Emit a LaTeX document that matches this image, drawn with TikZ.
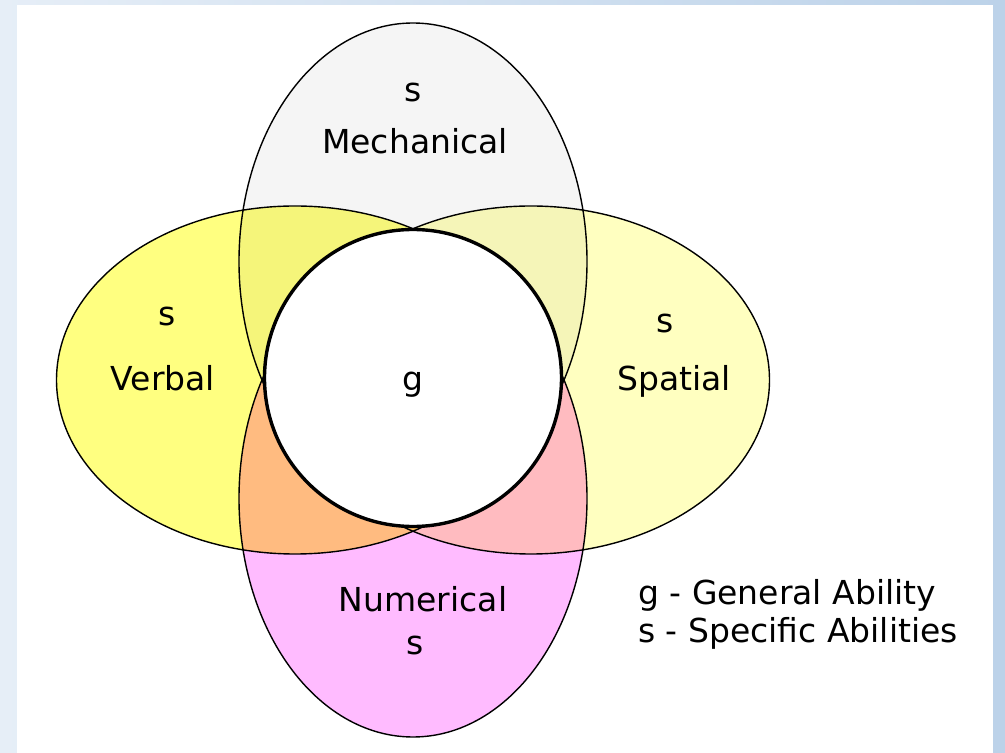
\documentclass[tikz,border=0pt]{standalone}
\usepackage{fontspec}
\setmainfont{DejaVu Sans}
\usepackage{tikz}
\usetikzlibrary{positioning}

\definecolor{mechgray}{HTML}{F5F5F5}
\definecolor{verbyellow}{HTML}{FFFF80}
\definecolor{spatyellow}{HTML}{FFFFC0}
\definecolor{numpink}{HTML}{FFBBFF}
\definecolor{bgleft}{HTML}{E6EEF7}
\definecolor{bgright}{HTML}{BCD2E9}

\begin{document}
\begin{tikzpicture}[
      x=1pt, y=1pt,
      every node/.style={font=\fontsize{33}{38}\selectfont, inner sep=0pt},
      outline/.style={draw=black, line width=1.4pt},
      gcircle/.style={draw=black, fill=white, line width=3.4pt},
      lbl/.style={anchor=base},
      legend/.style={anchor=base west}
    ]
      % Background and white panel
      \shade[left color=bgleft, right color=bgright] (0,0) rectangle (1005,753);
      \fill[white] (17,0) rectangle (993,748);
      \useasboundingbox (0,0) rectangle (1005,753);

      % Four ability ellipses, multiplied where they overlap
      \begin{scope}[blend group=multiply]
        \fill[mechgray] (413,491.5) ellipse [x radius=174, y radius=238.5];
        \fill[numpink] (413,254.5) ellipse [x radius=174, y radius=238.5];
        \fill[verbyellow] (295,373) ellipse [x radius=238.5, y radius=174];
        \fill[spatyellow] (531,373) ellipse [x radius=238.5, y radius=174];
      \end{scope}

      % Outlines
      \draw[outline] (413,491.5) ellipse [x radius=174, y radius=238.5];
      \draw[outline] (413,254.5) ellipse [x radius=174, y radius=238.5];
      \draw[outline] (295,373) ellipse [x radius=238.5, y radius=174];
      \draw[outline] (531,373) ellipse [x radius=238.5, y radius=174];

      % General ability in the middle
      \draw[gcircle] (413,375) circle [radius=148.5];

      % Labels
      \node[lbl] (mechs) at (413,651) {s};
      \node[lbl] (mech) at (415,599) {Mechanical};
      \node[lbl] (verbs) at (167,427) {s};
      \node[lbl] (verb) at (163,362) {Verbal};
      \node[lbl] (spats) at (665,420) {s};
      \node[lbl] (spat) at (674,362) {Spatial};
      \node[lbl] (numer) at (423,141) {Numerical};
      \node[lbl] (nums) at (415,98) {s};
      \node[lbl] (gen) at (413,362) {g};

      % Legend
      \node[legend] (leg1) at (638,148) {g - General Ability};
      \node[legend, below=38pt of leg1.base west, anchor=base west] (leg2) {s - Specific Abilities};
    \end{tikzpicture}
\end{document}
